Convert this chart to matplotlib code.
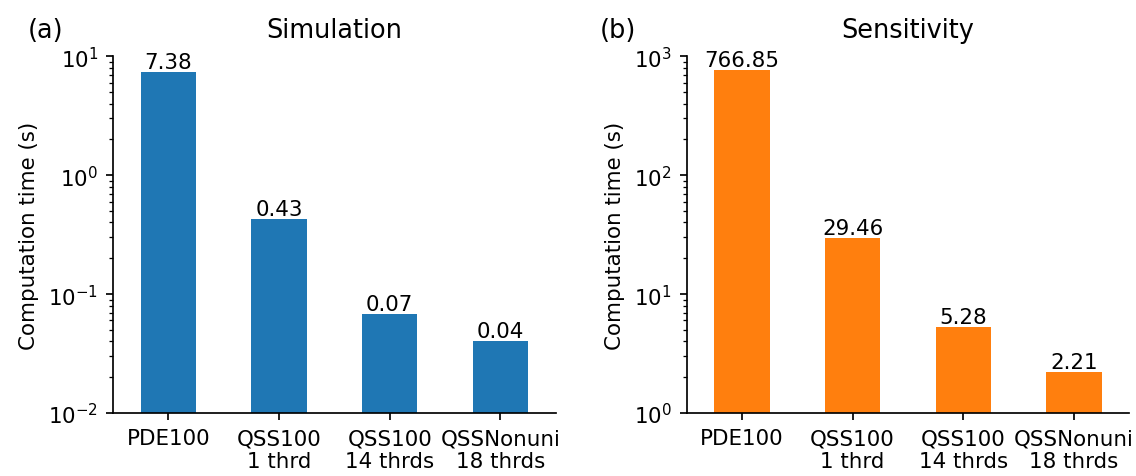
import numpy as np
import matplotlib
matplotlib.use("Agg")
import matplotlib.pyplot as plt

# dados
metodos = ["PDE100", "QSS100\n1 thrd", "QSS100\n14 thrds", "QSSNonuni\n18 thrds"]
tempo_sim = [7.38, 0.43, 0.068, 0.0405]
tempo_sens = [766.85, 29.46, 5.28, 2.21]

# escala equivalente a dpi ~154
s = 1.54
plt.rcParams.update({
    "font.size": 10 * s,
    "axes.linewidth": 0.8 * s,
    "xtick.major.width": 0.8 * s,
    "ytick.major.width": 0.8 * s,
    "xtick.minor.width": 0.6 * s,
    "ytick.minor.width": 0.6 * s,
    "xtick.major.size": 3.5 * s,
    "ytick.major.size": 3.5 * s,
    "xtick.minor.size": 2 * s,
    "ytick.minor.size": 2 * s,
    "xtick.major.pad": 3.5 * s,
    "ytick.major.pad": 3.5 * s,
    "axes.labelpad": 4 * s,
})

fig, axs = plt.subplots(1, 2, figsize=(11.36, 4.77), dpi=100)
fig.subplots_adjust(left=0.0995, right=0.994, top=0.880, bottom=0.132, wspace=0.296)

config = [
    (axs[0], tempo_sim, "#1f77b4", "Simulation", "(a)", 0.024, (1e-2, 1e1)),
    (axs[1], tempo_sens, "#ff7f0e", "Sensitivity", "(b)", 0.528, (1e0, 1e3)),
]

x = np.arange(len(metodos))
for ax, valores, cor, titulo, letra, xl, lim in config:
    barras = ax.bar(x, valores, width=0.5, color=cor)
    ax.set_yscale("log")
    ax.set_ylim(*lim)
    ax.set_xlim(-0.5, len(metodos) - 0.5)
    ax.set_xticks(x)
    ax.set_xticklabels(metodos)
    ax.set_ylabel("Computation time (s)")
    ax.set_title(titulo, fontsize=12 * s, pad=13.7)
    ax.bar_label(barras, labels=[f"{v:.2f}" for v in valores], padding=0)
    ax.spines["top"].set_visible(False)
    ax.spines["right"].set_visible(False)
    fig.text(xl, 0.921, letra, fontsize=12 * s, va="baseline")

fig.savefig("out.png")
